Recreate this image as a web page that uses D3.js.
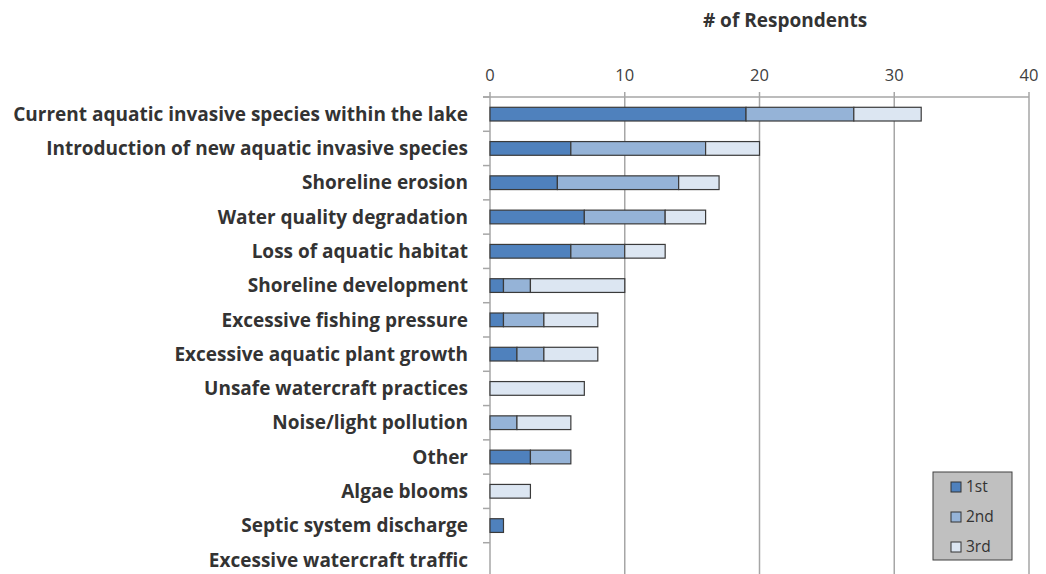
<!DOCTYPE html>
<html>
<head>
<meta charset="utf-8">
<script src="https://cdn.jsdelivr.net/npm/d3@7"></script>
<style>
  html, body { margin: 0; padding: 0; background: #fff; }
  svg { display: block; }
  text { font-family: "Open Sans", "Liberation Sans", sans-serif; }
</style>
</head>
<body>
<svg id="chart" width="1046" height="574"></svg>
<script>
// Concerns about the lake, ranked 1st / 2nd / 3rd by respondents
const categories = [
  "Current aquatic invasive species within the lake",
  "Introduction of new aquatic invasive species",
  "Shoreline erosion",
  "Water quality degradation",
  "Loss of aquatic habitat",
  "Shoreline development",
  "Excessive fishing pressure",
  "Excessive aquatic plant growth",
  "Unsafe watercraft practices",
  "Noise/light pollution",
  "Other",
  "Algae blooms",
  "Septic system discharge",
  "Excessive watercraft traffic"
];
const first  = [19, 6, 5, 7, 6, 1, 1, 2, 0, 0, 3, 0, 1, 0];
const second = [ 8, 10, 9, 6, 4, 2, 3, 2, 0, 2, 3, 0, 0, 0];
const third  = [ 5, 4, 3, 3, 3, 7, 4, 4, 7, 4, 0, 3, 0, 0];
const seriesNames = ["1st", "2nd", "3rd"];
const xTicks = [0, 10, 20, 30, 40];
const colors = ["#4f81bd", "#95b3d7", "#dce6f2"];

const rows = categories.map((c, i) => ({ cat: c, "1st": first[i], "2nd": second[i], "3rd": third[i] }));
const stacked = d3.stack().keys(seriesNames)(rows);

const svg = d3.select("#chart");
const plotLeft = 490, plotRight = 1029, plotTop = 97, plotBottom = 577;

const x = d3.scaleLinear().domain([0, 40]).range([plotLeft, plotRight]);
const y = d3.scaleBand().domain(categories).range([plotTop, plotBottom]).paddingInner(0.6).paddingOuter(0.3);

// vertical gridlines
svg.append("g").selectAll("line").data(xTicks).join("line")
  .attr("x1", d => x(d)).attr("x2", d => x(d))
  .attr("y1", plotTop - 5).attr("y2", 574)
  .attr("stroke", "#a6a6a6").attr("stroke-width", 1.5);

// top axis line
svg.append("line").attr("x1", plotLeft - 7).attr("x2", plotRight).attr("y1", plotTop).attr("y2", plotTop)
  .attr("stroke", "#a6a6a6").attr("stroke-width", 1.5);

// left axis category separators
const sepYs = d3.range(categories.length).map(i => plotTop + i * y.step());
svg.append("g").selectAll("line").data(sepYs).join("line")
  .attr("x1", plotLeft - 7).attr("x2", plotLeft).attr("y1", d => d).attr("y2", d => d)
  .attr("stroke", "#a6a6a6").attr("stroke-width", 1.5);

// tick labels
svg.append("g").selectAll("text").data(xTicks).join("text")
  .attr("x", d => x(d)).attr("y", 81)
  .attr("text-anchor", "middle")
  .attr("font-size", 16.5).attr("fill", "#404040")
  .text(d => d);

// title
svg.append("text").attr("x", 785).attr("y", 27).attr("text-anchor", "middle")
  .attr("font-size", 19).attr("font-weight", "bold").attr("fill", "#333")
  .text("# of Respondents");

// stacked bar segments
const bh = y.bandwidth();
svg.append("g").selectAll("g").data(stacked).join("g")
  .attr("fill", (d, i) => colors[i])
  .selectAll("rect").data(d => d.filter(s => s[1] > s[0])).join("rect")
  .attr("x", d => x(d[0])).attr("width", d => x(d[1]) - x(d[0]))
  .attr("y", d => y(d.data.cat)).attr("height", bh)
  .attr("stroke", "#3a3a3a").attr("stroke-width", 1.2);

// category labels
svg.append("g").selectAll("text").data(categories).join("text")
  .attr("x", 468).attr("y", d => y(d) + bh / 2)
  .attr("dy", "0.35em").attr("text-anchor", "end")
  .attr("font-size", 19).attr("font-weight", "bold").attr("fill", "#333")
  .text(d => d);

// legend
const lg = svg.append("g");
lg.append("rect").attr("x", 933).attr("y", 472).attr("width", 79).attr("height", 88)
  .attr("fill", "#c0c0c0").attr("stroke", "#404040").attr("stroke-width", 1);
seriesNames.forEach((s, i) => {
  const yy = 487 + i * 30;
  lg.append("rect").attr("x", 951).attr("y", yy - 5).attr("width", 10).attr("height", 10)
    .attr("fill", colors[i]).attr("stroke", "#333").attr("stroke-width", 1);
  lg.append("text").attr("x", 966).attr("y", yy).attr("dy", "0.35em")
    .attr("font-size", 15.5).attr("fill", "#333").text(s);
});
</script>
</body>
</html>
